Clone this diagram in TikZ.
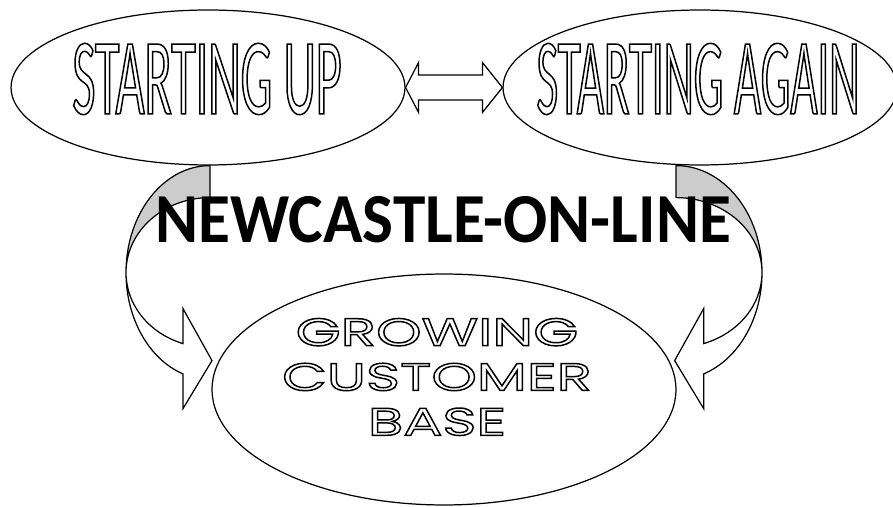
\documentclass[tikz,border=0pt]{standalone}
\usepackage{fontspec}
\usepackage{tikz}
\usetikzlibrary{shapes.geometric,calc}
\setmainfont{Carlito}
\newfontfamily\upfont[FakeStretch=0.46]{Carlito}
\newfontfamily\tallfont[FakeStretch=0.43]{Carlito}
\newfontfamily\boldfont[FakeStretch=0.93]{Carlito Bold}
\newfontfamily\widefont[FakeStretch=1.5]{Poppins}
% outlined letters: stroke the glyphs instead of filling them
\newcommand{\hollow}[1]{\special{pdf:literal direct 1 Tr 0.85 w}#1\special{pdf:literal direct 0 Tr}}

\begin{document}
\begin{tikzpicture}[x=0.02cm,y=0.02cm,
  blob/.style={draw,ellipse,fill=white,line width=0.7pt,inner sep=0pt},
  backface/.style={draw,fill=black!20,line width=0.7pt,line join=round},
  frontface/.style={draw,fill=white,line width=0.7pt}]
  \useasboundingbox (0,0) rectangle (893,507);
  \node[blob,minimum width=7.88cm,minimum height=3.1cm] (up) at (208,419.5) {};
  \node[blob,minimum width=7.88cm,minimum height=3.1cm] (again) at (700,419.5) {};
  \node[blob,minimum width=9.28cm,minimum height=4.62cm] (grow) at (444,117.5) {};
  % two-way block arrow
  \draw[frontface] (up.east) -- ++(13,25) -- ++(0,-12.5) -- ($(again.west)+(-20,12.5)$)
    -- ++(0,12.5) -- (again.west) -- ++(-20,-25) -- ++(0,12.5)
    -- ($(up.east)+(13,-12.5)$) -- ++(0,-12.5) -- cycle;
  % curved arrows into the customer base
  \coordinate (lroot) at ($(up.south)+(2,0)$);
  \coordinate (rroot) at ($(again.south)+(-24,0)$);
  \draw[backface] (lroot) arc[start angle=90,end angle=180,x radius=84,y radius=107]
    arc[start angle=180,end angle=90,x radius=84,y radius=75] -- cycle;
  \draw[frontface] (lroot) ++(-84,-107) arc[start angle=180,end angle=251.25,x radius=84,y radius=107]
    -- ++(0,-34.7) -- ++(29,48) -- ++(-29,52) -- ++(0,-35)
    arc[start angle=251.25,end angle=180,x radius=84,y radius=75] -- cycle;
  \draw[backface] (rroot) arc[start angle=90,end angle=0,x radius=86,y radius=107]
    arc[start angle=0,end angle=90,x radius=86,y radius=75] -- cycle;
  \draw[frontface] (rroot) ++(86,-107) arc[start angle=0,end angle=-71.25,x radius=86,y radius=107]
    -- ++(0,-34.7) -- ++(-29,48) -- ++(29,52) -- ++(0,-35)
    arc[start angle=-71.25,end angle=0,x radius=86,y radius=75] -- cycle;
  % labels
  \node[inner sep=0pt] (uptext) at (207,428) {\upfont\fontsize{62}{62}\selectfont\hollow{STARTING UP}};
  \node[inner sep=0pt] (againtext) at (698,428) {\tallfont\fontsize{62}{62}\selectfont\hollow{STARTING AGAIN}};
  \node[inner sep=0pt] (title) at (443,287) {\boldfont\fontsize{40}{40}\selectfont NEWCASTLE-ON-LINE};
  \node[inner sep=0pt,align=center,font=\widefont\fontsize{22}{25.5}\selectfont] (growtext) at (437,130)
    {\hollow{GROWING}\\\hollow{CUSTOMER}\\\hollow{BASE}};
\end{tikzpicture}
\end{document}
